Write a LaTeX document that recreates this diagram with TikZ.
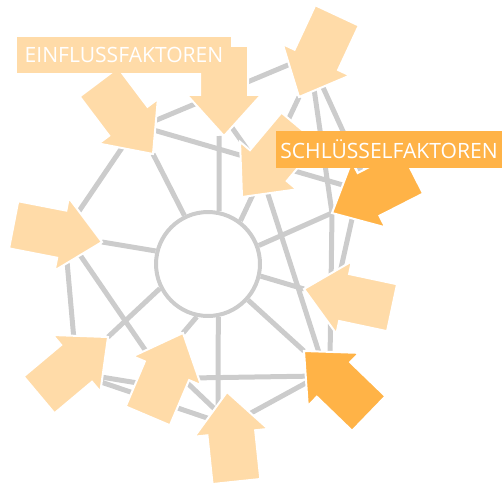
\documentclass[tikz,border=0pt]{standalone}
\usepackage{fontspec}
\setmainfont{Open Sans}
\usetikzlibrary{backgrounds}
\definecolor{peach}{HTML}{FFDBA8}
\definecolor{amber}{HTML}{FFB347}
\definecolor{wire}{HTML}{CCCCCC}
\tikzset{
  link/.style={draw=wire, line width=0.1cm},
  hubring/.style={circle, draw=wire, fill=white, line width=0.08cm, minimum size=2.08cm, inner sep=0pt},
  tag/.style={inner sep=0pt, text=white, font=\fontsize{12}{14}\selectfont},
  inarrow/.pic={\fill[#1, draw=white, line width=0.04cm] (0,0) -- (-41,-37) -- (-41,-24) -- (-90,-24)
    -- (-90,24) -- (-41,24) -- (-41,37) -- cycle;}
}
\begin{document}
\begin{tikzpicture}[x=0.02cm, y=-0.02cm]
  \useasboundingbox (0,0) rectangle (502,486);

  % hub in the middle
  \node[hubring] (hub) at (208,264) {};

  % tips of the arrows
  \coordinate (e1) at (153,154);
  \coordinate (e2) at (224,136);
  \coordinate (e3) at (299,97);
  \coordinate (e4) at (242,197);
  \coordinate (e5) at (102,242);
  \coordinate (e6) at (108,337);
  \coordinate (e7) at (183,333);
  \coordinate (e8) at (227,392);
  \coordinate (e9) at (304,289);
  \coordinate (s1) at (332,213);
  \coordinate (s2) at (304,351);

  % line ends hidden under the arrows
  \coordinate (e1a) at (130,136);
  \coordinate (e1b) at (140,127);
  \coordinate (e1c) at (150,129);
  \coordinate (e2a) at (228,122);
  \coordinate (e2b) at (219,136);
  \coordinate (e3a) at (300,60);
  \coordinate (e3b) at (312,75);
  \coordinate (e3c) at (316,72);
  \coordinate (e4a) at (252,156);
  \coordinate (e4b) at (265,185);
  \coordinate (e5a) at (75,217);
  \coordinate (e5b) at (66,250);
  \coordinate (e5c) at (78,252);
  \coordinate (e6a) at (74,340);
  \coordinate (e6b) at (95,376);
  \coordinate (e6c) at (95,380);
  \coordinate (e7a) at (150,357);
  \coordinate (e7b) at (150,385);
  \coordinate (e7c) at (180,376);
  \coordinate (e7d) at (190,378);
  \coordinate (e8a) at (222,423);
  \coordinate (e8b) at (222,416);
  \coordinate (e8c) at (240,419);
  \coordinate (e8d) at (218,410);
  \coordinate (e9a) at (335,295);
  \coordinate (s1a) at (360,190);
  \coordinate (s1b) at (372,195);
  \coordinate (s1c) at (354,210);
  \coordinate (s2a) at (322,362);
  \coordinate (s2b) at (330,360);
  \coordinate (s2c) at (318,376);
  \coordinate (s2d) at (315,378);

  % network
  \begin{scope}[on background layer]
    \draw[link] (e1) -- (hub.116);
    \draw[link] (e2b) -- (hub.78);
    \draw[link] (e3) -- (hub.53);
    \draw[link] (s1) -- (hub.20);
    \draw[link] (e9) -- (hub.-13);
    \draw[link] (s2) -- (hub.-42);
    \draw[link] (e8d) -- (hub.-79);
    \draw[link] (e7) -- (hub.258);
    \draw[link] (e6) -- (hub.207);
    \draw[link] (e5) -- (hub.166);

    \draw[link] (e1a) -- (e5a);
    \draw[link] (e1b) -- (e3a);
    \draw[link] (e1c) -- (s1a);
    \draw[link] (e2a) -- (e4a);
    \draw[link] (e3b) -- (s1);
    \draw[link] (e3c) -- (s1b);
    \draw[link] (e4b) -- (s2a);
    \draw[link] (s1) -- (s2b);
    \draw[link] (s1c) -- (e9a);
    \draw[link] (e5b) -- (e6a);
    \draw[link] (e5c) -- (e7a);
    \draw[link] (e6b) -- (e7b);
    \draw[link] (e6c) -- (e8a);
    \draw[link] (e7c) -- (e8b);
    \draw[link] (e7d) -- (s2c);
    \draw[link] (e8c) -- (s2d);
  \end{scope}

  % arrows
  \pic[rotate=-53] at (e1) {inarrow=peach};
  \pic[rotate=-90] at (e2) {inarrow=peach};
  \pic[rotate=-115] at (e3) {inarrow=peach};
  \pic[rotate=-130] at (e4) {inarrow=peach};
  \pic[rotate=-11] at (e5) {inarrow=peach};
  \pic[rotate=40] at (e6) {inarrow=peach};
  \pic[rotate=67] at (e7) {inarrow=peach};
  \pic[rotate=96] at (e8) {inarrow=peach};
  \pic[rotate=168] at (e9) {inarrow=peach};
  \pic[rotate=-153] at (s1) {inarrow=amber};
  \pic[rotate=136] at (s2) {inarrow=amber};

  % labels
  \node[tag, fill=peach, minimum width=4.28cm, minimum height=0.72cm] (einfluss) at (124,55) {EINFLUSSFAKTOREN};
  \node[tag, fill=amber, minimum width=4.52cm, minimum height=0.74cm] (schluessel) at (389,149.5) {SCHLÜSSELFAKTOREN};
\end{tikzpicture}
\end{document}
